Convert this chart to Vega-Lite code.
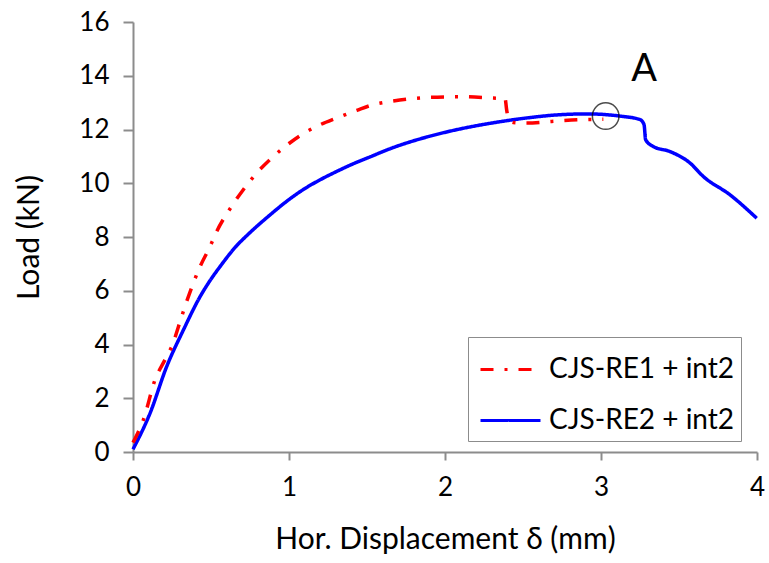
{
  "$schema": "https://vega.github.io/schema/vega-lite/v6.json",
  "width": 624,
  "height": 430,
  "autosize": {"type": "none"},
  "padding": {"left": 133, "top": 22, "right": 12, "bottom": 111},
  "background": "white",
  "config": {
    "view": {"stroke": null},
    "font": "Lato",
    "axis": {
      "domainColor": "#8c8c8c",
      "domainWidth": 2,
      "tickColor": "#8c8c8c",
      "tickWidth": 2,
      "grid": false,
      "labelFlush": false,
      "labelColor": "black",
      "titleColor": "black",
      "labelFont": "Lato",
      "titleFont": "Lato",
      "labelFontSize": 26,
      "titleFontSize": 30,
      "titleFontWeight": "normal"
    }
  },
  "datasets": {
    "curves": [
      {"d": 0.0, "load": 0.1, "series": "CJS-RE2 + int2"},
      {"d": 0.109, "load": 1.44, "series": "CJS-RE2 + int2"},
      {"d": 0.216, "load": 3.18, "series": "CJS-RE2 + int2"},
      {"d": 0.323, "load": 4.54, "series": "CJS-RE2 + int2"},
      {"d": 0.43, "load": 5.78, "series": "CJS-RE2 + int2"},
      {"d": 0.494, "load": 6.38, "series": "CJS-RE2 + int2"},
      {"d": 0.558, "load": 6.9, "series": "CJS-RE2 + int2"},
      {"d": 0.665, "load": 7.68, "series": "CJS-RE2 + int2"},
      {"d": 0.729, "load": 8.05, "series": "CJS-RE2 + int2"},
      {"d": 0.878, "load": 8.82, "series": "CJS-RE2 + int2"},
      {"d": 1.006, "load": 9.42, "series": "CJS-RE2 + int2"},
      {"d": 1.09, "load": 9.76, "series": "CJS-RE2 + int2"},
      {"d": 1.2, "load": 10.13, "series": "CJS-RE2 + int2"},
      {"d": 1.306, "load": 10.44, "series": "CJS-RE2 + int2"},
      {"d": 1.41, "load": 10.72, "series": "CJS-RE2 + int2"},
      {"d": 1.519, "load": 10.98, "series": "CJS-RE2 + int2"},
      {"d": 1.669, "load": 11.33, "series": "CJS-RE2 + int2"},
      {"d": 1.883, "load": 11.72, "series": "CJS-RE2 + int2"},
      {"d": 2.096, "load": 12.02, "series": "CJS-RE2 + int2"},
      {"d": 2.31, "load": 12.25, "series": "CJS-RE2 + int2"},
      {"d": 2.524, "load": 12.43, "series": "CJS-RE2 + int2"},
      {"d": 2.737, "load": 12.55, "series": "CJS-RE2 + int2"},
      {"d": 2.91, "load": 12.58, "series": "CJS-RE2 + int2"},
      {"d": 3.12, "load": 12.5, "series": "CJS-RE2 + int2"},
      {"d": 3.25, "load": 12.37, "series": "CJS-RE2 + int2"},
      {"d": 3.276, "load": 12.18, "series": "CJS-RE2 + int2"},
      {"d": 3.286, "load": 11.62, "series": "CJS-RE2 + int2"},
      {"d": 3.335, "load": 11.37, "series": "CJS-RE2 + int2"},
      {"d": 3.442, "load": 11.18, "series": "CJS-RE2 + int2"},
      {"d": 3.571, "load": 10.75, "series": "CJS-RE2 + int2"},
      {"d": 3.656, "load": 10.25, "series": "CJS-RE2 + int2"},
      {"d": 3.827, "load": 9.57, "series": "CJS-RE2 + int2"},
      {"d": 3.998, "load": 8.7, "series": "CJS-RE2 + int2"},
      {"d": 0.0, "load": 0.35, "series": "CJS-RE1 + int2"},
      {"d": 0.03, "load": 0.7, "series": "CJS-RE1 + int2"},
      {"d": 0.066, "load": 1.19, "series": "CJS-RE1 + int2"},
      {"d": 0.141, "load": 2.68, "series": "CJS-RE1 + int2"},
      {"d": 0.205, "load": 3.43, "series": "CJS-RE1 + int2"},
      {"d": 0.248, "load": 3.92, "series": "CJS-RE1 + int2"},
      {"d": 0.312, "load": 5.04, "series": "CJS-RE1 + int2"},
      {"d": 0.344, "load": 5.6, "series": "CJS-RE1 + int2"},
      {"d": 0.43, "load": 6.9, "series": "CJS-RE1 + int2"},
      {"d": 0.494, "load": 7.65, "series": "CJS-RE1 + int2"},
      {"d": 0.536, "load": 8.2, "series": "CJS-RE1 + int2"},
      {"d": 0.622, "load": 9.05, "series": "CJS-RE1 + int2"},
      {"d": 0.707, "load": 9.76, "series": "CJS-RE1 + int2"},
      {"d": 0.793, "load": 10.38, "series": "CJS-RE1 + int2"},
      {"d": 0.878, "load": 10.88, "series": "CJS-RE1 + int2"},
      {"d": 0.963, "load": 11.31, "series": "CJS-RE1 + int2"},
      {"d": 1.081, "load": 11.81, "series": "CJS-RE1 + int2"},
      {"d": 1.178, "load": 12.12, "series": "CJS-RE1 + int2"},
      {"d": 1.306, "load": 12.43, "series": "CJS-RE1 + int2"},
      {"d": 1.434, "load": 12.71, "series": "CJS-RE1 + int2"},
      {"d": 1.519, "load": 12.89, "series": "CJS-RE1 + int2"},
      {"d": 1.669, "load": 13.06, "series": "CJS-RE1 + int2"},
      {"d": 1.883, "load": 13.19, "series": "CJS-RE1 + int2"},
      {"d": 2.096, "load": 13.22, "series": "CJS-RE1 + int2"},
      {"d": 2.31, "load": 13.17, "series": "CJS-RE1 + int2"},
      {"d": 2.385, "load": 13.15, "series": "CJS-RE1 + int2"},
      {"d": 2.395, "load": 12.74, "series": "CJS-RE1 + int2"},
      {"d": 2.405, "load": 12.43, "series": "CJS-RE1 + int2"},
      {"d": 2.437, "load": 12.26, "series": "CJS-RE1 + int2"},
      {"d": 2.524, "load": 12.24, "series": "CJS-RE1 + int2"},
      {"d": 2.684, "load": 12.3, "series": "CJS-RE1 + int2"},
      {"d": 2.85, "load": 12.36, "series": "CJS-RE1 + int2"},
      {"d": 3.015, "load": 12.38, "series": "CJS-RE1 + int2"}
    ],
    "marker": [{"d": 3.03, "load": 12.5}],
    "label": [{"d": 3.276, "load": 13.82, "text": "A"}]
  },
  "layer": [
    {
      "data": {"name": "curves"},
      "mark": {"type": "line", "strokeWidth": 3.5, "interpolate": "monotone"},
      "encoding": {
        "x": {
          "field": "d", "type": "quantitative",
          "scale": {"domain": [0, 4], "nice": false},
          "axis": {"values": [0, 1, 2, 3, 4], "format": "d", "title": "Hor. Displacement δ (mm)", "tickSize": 8, "labelPadding": 14, "titlePadding": 24}
        },
        "y": {
          "field": "load", "type": "quantitative",
          "scale": {"domain": [0, 16], "nice": false},
          "axis": {"values": [0, 2, 4, 6, 8, 10, 12, 14, 16], "format": "d", "title": "Load (kN)", "tickSize": 10, "labelPadding": 14, "titlePadding": 34}
        },
        "color": {
          "field": "series", "type": "nominal",
          "scale": {"domain": ["CJS-RE1 + int2", "CJS-RE2 + int2"], "range": ["#ff0000", "#0000ff"]},
          "legend": {
            "title": null,
            "orient": "none",
            "legendX": 335,
            "legendY": 315,
            "strokeColor": "#8c8c8c",
            "fillColor": "white",
            "padding": 6,
            "symbolType": "M-1.2,0H1.2",
            "symbolSize": 2500,
            "symbolOffset": 10,
            "symbolStrokeWidth": 3,
            "labelFontSize": 28,
            "labelFont": "Lato",
            "labelColor": "black",
            "labelOffset": 12,
            "labelLimit": 400,
            "rowPadding": 10
          }
        },
        "strokeDash": {
          "field": "series", "type": "nominal",
          "scale": {"domain": ["CJS-RE1 + int2", "CJS-RE2 + int2"], "range": [[13, 11, 3, 11], [1, 0]]},
          "legend": {
            "title": null,
            "orient": "none",
            "legendX": 335,
            "legendY": 315,
            "strokeColor": "#8c8c8c",
            "fillColor": "white",
            "padding": 6,
            "symbolType": "M-1.2,0H1.2",
            "symbolSize": 2500,
            "symbolOffset": 10,
            "symbolStrokeWidth": 3,
            "labelFontSize": 28,
            "labelFont": "Lato",
            "labelColor": "black",
            "labelOffset": 12,
            "labelLimit": 400,
            "rowPadding": 10
          }
        },
        "order": {"field": "d", "type": "quantitative"}
      }
    },
    {
      "data": {"name": "marker"},
      "mark": {"type": "point", "shape": "circle", "filled": false, "size": 707, "stroke": "black", "strokeWidth": 1.5},
      "encoding": {
        "x": {"field": "d", "type": "quantitative"},
        "y": {"field": "load", "type": "quantitative"}
      }
    },
    {
      "data": {"name": "label"},
      "mark": {"type": "text", "fontSize": 38, "font": "Lato", "baseline": "alphabetic", "align": "center", "color": "black"},
      "encoding": {
        "x": {"field": "d", "type": "quantitative"},
        "y": {"field": "load", "type": "quantitative"},
        "text": {"field": "text"}
      }
    }
  ]
}
